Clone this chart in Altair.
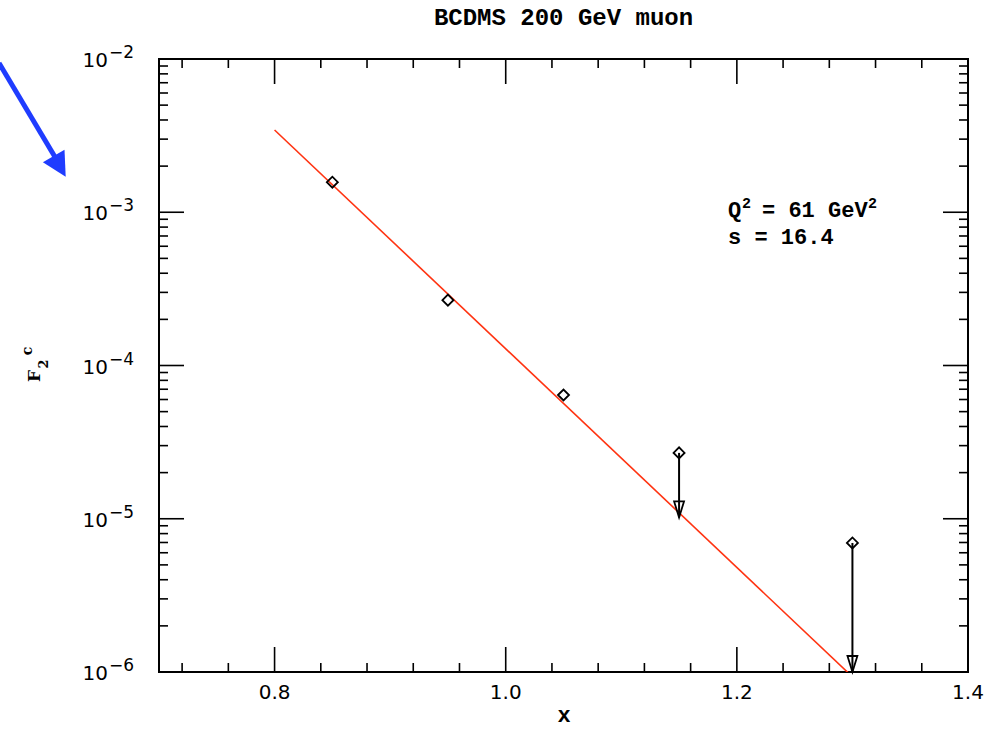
import altair as alt
import pandas as pd

# ---- data ----
x_pts = [0.85, 0.95, 1.05, 1.15, 1.30]
f2c = [1.57e-3, 2.67e-4, 6.42e-5, 2.69e-5, 6.95e-6]
lim_x = [1.15, 1.30]
lim_from = [2.69e-5, 6.95e-6]
lim_to = [1.02e-5, 1.0e-6]
fit_x = [0.80, 1.30]
fit_y = [3.44e-3, 9.3e-7]

# ---- ticks and labels ----
x_major = [0.8, 1.0, 1.2]
x_minor = [0.72, 0.76, 0.84, 0.88, 0.92, 0.96, 1.04, 1.08, 1.12, 1.16,
           1.24, 1.28, 1.32, 1.36]
x_label_vals = [0.8, 1.0, 1.2, 1.4]
x_labels = ["0.8", "1.0", "1.2", "1.4"]
y_major = [1e-5, 1e-4, 1e-3]
y_decades = [1e-6, 1e-5, 1e-4, 1e-3]
y_mults = [2, 3, 4, 5, 6, 7, 8, 9]
y_minor = [m * d for d in y_decades for m in y_mults]
y_label_vals = [1e-6, 1e-5, 1e-4, 1e-3, 1e-2]
y_label_exps = ["\u22126", "\u22125", "\u22124", "\u22123", "\u22122"]

title_text = "BCDMS 200 GeV muon"
q2_main = ["Q", "= 61 GeV"]
q2_sup = ["2", "2"]
s_text = "s = 16.4"

W, H = 809, 613
xs = alt.Scale(domain=[0.7, 1.4], nice=False, zero=False)
ys = alt.Scale(type="log", domain=[1e-6, 1e-2], nice=False)
MONO = "Liberation Mono"
SERIF = "DejaVu Serif"
SANS = "DejaVu Sans"

pts = pd.DataFrame({"x": x_pts, "y": f2c})
lims = pd.DataFrame({"x": lim_x, "y": lim_from, "y2": lim_to})
fit = pd.DataFrame({"x": fit_x, "y": fit_y})
one = pd.DataFrame({"a": [0]})

X = lambda: alt.X("x:Q", scale=xs, axis=None)
Y = lambda: alt.Y("y:Q", scale=ys, axis=None)

fit_line = alt.Chart(fit).mark_line(color="#ff3311", strokeWidth=1.6, clip=True).encode(X(), Y())

lim_rules = alt.Chart(lims).mark_rule(color="black", strokeWidth=2).encode(X(), Y(), y2="y2:Q")
arrow_path = "M -0.31 -1 L 0.31 -1 L 0 0 Z"
lim_heads = alt.Chart(lims).mark_point(
    shape=arrow_path, filled=False, stroke="black", strokeWidth=1.8, size=1024, opacity=1
).encode(X(), alt.Y("y2:Q", scale=ys, axis=None))

points = alt.Chart(pts).mark_point(
    shape="diamond", filled=False, stroke="black", strokeWidth=1.8, size=121, opacity=1
).encode(X(), Y())

def xticks(vals, length):
    d = pd.DataFrame({"x": vals})
    b = alt.Chart(d).mark_rule(color="black", strokeWidth=1.6).encode(
        X(), y=alt.value(H), y2=alt.value(H - length))
    t = alt.Chart(d).mark_rule(color="black", strokeWidth=1.6).encode(
        X(), y=alt.value(0), y2=alt.value(length))
    return [b, t]

def yticks(vals, length):
    d = pd.DataFrame({"y": vals})
    l = alt.Chart(d).mark_rule(color="black", strokeWidth=1.6).encode(
        Y(), x=alt.value(0), x2=alt.value(length))
    r = alt.Chart(d).mark_rule(color="black", strokeWidth=1.6).encode(
        Y(), x=alt.value(W), x2=alt.value(W - length))
    return [l, r]

ticks = xticks(x_major, 25) + xticks(x_minor, 9) + yticks(y_major, 25) + yticks(y_minor, 9)

xlab = alt.Chart(pd.DataFrame({"x": x_label_vals, "t": x_labels})).mark_text(
    font=SANS, fontSize=20, baseline="middle", align="center", color="black"
).encode(X(), y=alt.value(634), text="t:N")

ylab_df = pd.DataFrame({"y": y_label_vals, "e": y_label_exps, "b": ["10"] * 5})
ylab10 = alt.Chart(ylab_df).mark_text(
    font=SANS, fontSize=20, baseline="middle", align="right", dy=2, color="black"
).encode(Y(), x=alt.value(-51), text="b:N")
ylabexp = alt.Chart(ylab_df).mark_text(
    font=SANS, fontSize=17, baseline="middle", align="left", dy=-6, color="black"
).encode(Y(), x=alt.value(-50), text="e:N")

def txt(s, x, y, size, font=MONO, weight="bold", align="left", angle=None, baseline="alphabetic"):
    kw = dict(font=font, fontSize=size, fontWeight=weight, align=align, baseline=baseline, color="black")
    if angle is not None:
        kw["angle"] = angle
    return alt.Chart(pd.DataFrame({"t": [s]})).mark_text(**kw).encode(
        x=alt.value(x), y=alt.value(y), text="t:N")

title = txt(title_text, W / 2, -34, 24, align="center")
info = [
    txt(q2_main[0], 569, 157.5, 22),
    txt(q2_sup[0], 583, 149, 15),
    txt(q2_main[1], 603, 157.5, 22),
    txt(q2_sup[1], 709, 149, 15),
    txt(s_text, 569, 185, 22),
]
xtitle = txt("x", 405, 663, 22, align="center")

yt = [
    txt("F", -124, 317, 17, font=SERIF, align="center", angle=270, baseline="middle"),
    txt("2", -115, 305, 13, font=SERIF, align="center", angle=270, baseline="middle"),
    txt("c", -131, 292, 14, font=SERIF, align="center", angle=270, baseline="middle"),
]

blue_shaft = alt.Chart(one).mark_rule(color="#1f3cff", strokeWidth=5).encode(
    x=alt.value(-160), y=alt.value(4), x2=alt.value(-104), y2=alt.value(98))
blue_head = alt.Chart(one).mark_point(
    shape="M 0 0 L -0.52 1 L 0.52 1 Z", filled=True, color="#1f3cff", opacity=1, size=2304, angle=150
).encode(x=alt.value(-93.3), y=alt.value(117.7))

chart = alt.layer(
    fit_line, *ticks, lim_rules, lim_heads, points, xlab, ylab10, ylabexp,
    title, *info, xtitle, *yt, blue_shaft, blue_head
).properties(
    width=W, height=H,
    padding={"left": 159, "top": 59, "right": 32, "bottom": 58},
    autosize="none", background="white"
).configure_view(stroke="black", strokeWidth=2)

chart.save("out.html", embed_options={"renderer": "svg", "actions": False})
